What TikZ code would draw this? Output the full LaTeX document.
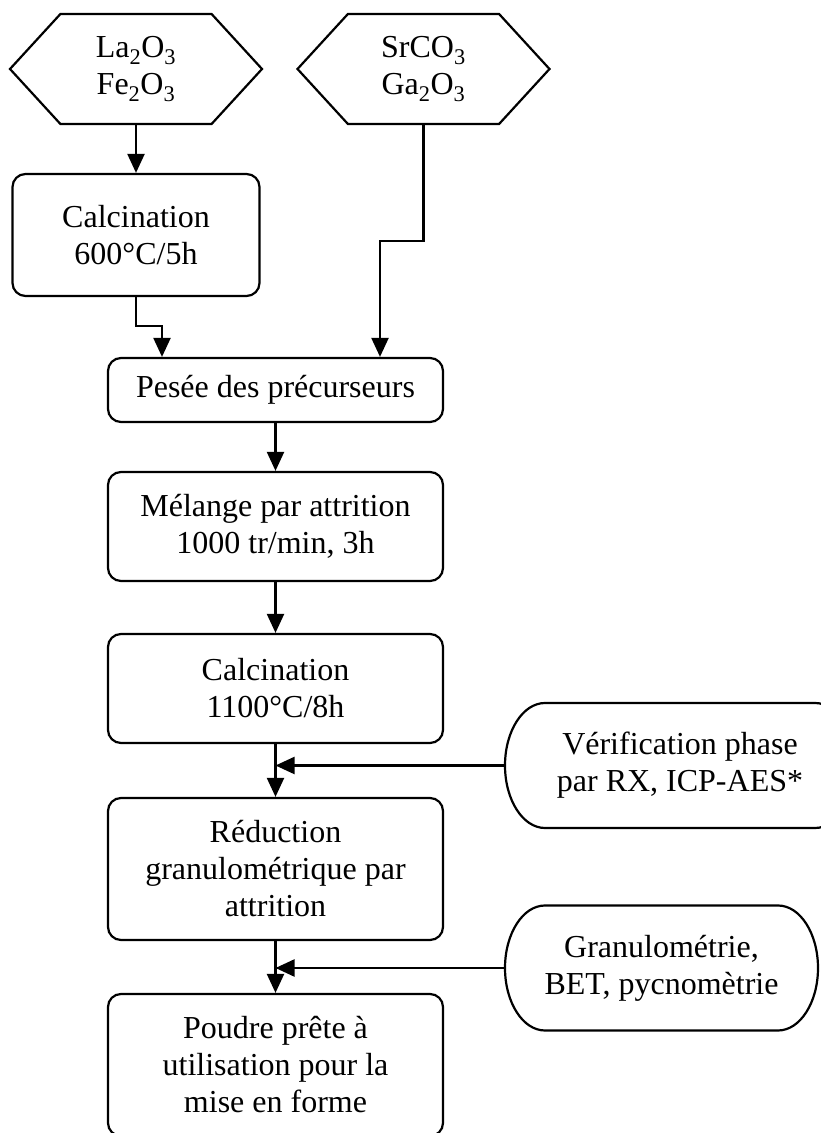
\documentclass[tikz,border=0pt]{standalone}
\usepackage{fontspec}
\setmainfont{Liberation Serif}
\usetikzlibrary{arrows.meta,shapes.symbols}

\begin{document}
\begin{tikzpicture}[x=1pt,y=1pt,line width=2.2pt,font=\fontsize{32}{37}\selectfont,
  box/.style={draw,rounded corners=13pt,align=center,minimum width=335pt,inner sep=0pt},
  hexa/.style={draw,signal,signal to=west and east,signal pointer angle=95,minimum width=252pt,minimum height=110pt,align=center,inner sep=0pt},
  term/.style={minimum height=125pt,align=center,inner sep=0pt,outer sep=0pt},
  arr/.style={-{Triangle[length=19pt,width=17pt]}}]
\useasboundingbox (0,0) rectangle (820,1133);
\node[hexa] (lafe) at (136,1064) {La\textsubscript{2}O\textsubscript{3}\\Fe\textsubscript{2}O\textsubscript{3}};
\node[hexa] (srga) at (423.5,1064) {SrCO\textsubscript{3}\\Ga\textsubscript{2}O\textsubscript{3}};
\node[box,minimum width=247pt,minimum height=122pt] (calc1) at (136,898) {Calcination\\600°C/5h};
\node[box,minimum height=64pt] (pesee) at (275.5,743) {Pesée des précurseurs};
\node[box,minimum height=109pt] (melange) at (275.5,606.5) {Mélange par attrition\\1000 tr/min, 3h};
\node[box,minimum height=109pt] (calc2) at (275.5,444.5) {Calcination\\1100°C/8h};
\node[box,minimum height=142pt] (reduc) at (275.5,264) {Réduction\\granulométrique par\\attrition};
\node[box,minimum height=142pt] (poudre) at (275.5,68) {Poudre prête à\\utilisation pour la\\mise en forme};
\node[term,minimum width=350pt] (verif) at (680,367.5) {Vérification phase\\par RX, ICP-AES*};
\node[term,minimum width=313pt] (granu) at (661.5,165) {Granulométrie,\\BET, pycnomètrie};
\foreach \n in {verif,granu}
  \draw ([xshift=40pt]\n.north west) -- ([xshift=-40pt]\n.north east)
    arc[start angle=90,end angle=-90,x radius=40pt,y radius=62.5pt]
    -- ([xshift=40pt]\n.south west)
    arc[start angle=270,end angle=90,x radius=40pt,y radius=62.5pt] -- cycle;
\coordinate (j1) at (162,807);
\coordinate (j2) at (380,892);
\draw[arr] (lafe.south) -- (calc1.north);
\draw[arr] (calc1.south) |- (j1) -- (j1 |- pesee.north);
\draw[arr] (srga.south) |- (j2) -- (j2 |- pesee.north);
\draw[arr] (pesee.south) -- (melange.north);
\draw[arr] (melange.south) -- (calc2.north);
\draw[arr] (calc2.south) -- (reduc.north);
\draw[arr] (reduc.south) -- (poudre.north);
\draw[arr] (verif.west) -- (verif.west -| calc2.south);
\draw[arr] (granu.west) -- (granu.west -| reduc.south);
\end{tikzpicture}
\end{document}
